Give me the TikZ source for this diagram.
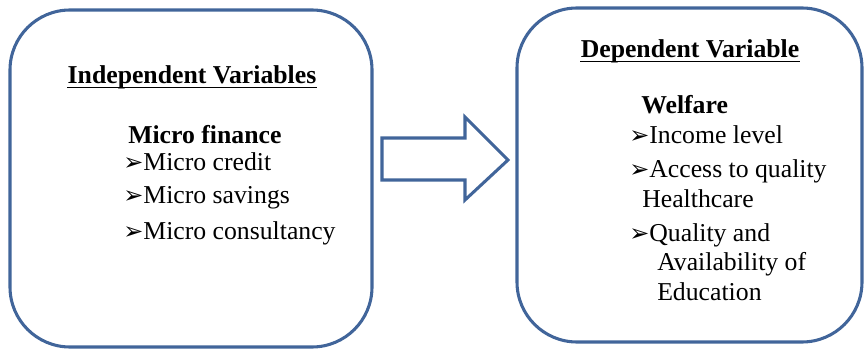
\documentclass[tikz,border=0pt]{standalone}
\usepackage{fontspec}
\setmainfont{Liberation Serif}
\newfontfamily\dingfont{DejaVu Sans}
\usepackage{tikz}
\usetikzlibrary{arrows.meta}

\definecolor{boxblue}{HTML}{41659A}
\newcommand{\bul}{{\dingfont\fontsize{18}{18}\selectfont ➢}}

\tikzset{
    varbox/.style={draw=boxblue, line width=2.3pt, rounded corners=45pt, inner sep=0pt},
    txt/.style={inner sep=0pt, anchor=base west, font=\fontsize{19.3}{24}\selectfont},
    head/.style={inner sep=0pt, anchor=base, font=\fontsize{19.3}{24}\selectfont\bfseries},
    uline/.style={line width=1.3pt}
}

\begin{document}
\begin{tikzpicture}[x=0.75pt, y=-0.75pt]

    \useasboundingbox (0,0) rectangle (864,349);

    % the two boxes
    \node[varbox, minimum width=271.5pt, minimum height=252.75pt] (indep) at (191,178.5) {};
    \node[varbox, minimum width=258.75pt, minimum height=250.5pt] (dep) at (689.5,175) {};

    % block arrow between them
    \draw[boxblue, line width=2.3pt, line join=miter]
        (382,138) -- (465,138) -- (465,117) -- (508,160) -- (465,200) -- (465,180) -- (382,180) -- cycle;

    % independent side
    \node[head] (indtitle) at (192,84) {Independent Variables};
    \draw[uline] ([yshift=-2.6pt]indtitle.base west) -- ([yshift=-2.6pt]indtitle.base east);
    \node[head, anchor=base west] (mfin) at (128,144) {Micro finance};
    \node[txt] (credit) at (123,171) {\bul Micro credit};
    \node[txt] (savings) at (123,204) {\bul Micro savings};
    \node[txt] (consult) at (123,239) {\bul Micro consultancy};

    % dependent side
    \node[head] (deptitle) at (690,58) {Dependent Variable};
    \draw[uline] ([yshift=-2.6pt]deptitle.base west) -- ([yshift=-2.6pt]deptitle.base east);
    \node[head, anchor=base west] (welf) at (641,114) {Welfare};
    \node[txt] (income) at (629,144) {\bul Income level};
    \node[txt] (access) at (629,178) {\bul Access to quality};
    \node[txt] (health) at (642,208) {Healthcare};
    \node[txt] (quality) at (629,241) {\bul Quality and};
    \node[txt] (avail) at (657,270) {Availability of};
    \node[txt] (educ) at (657,300) {Education};

\end{tikzpicture}
\end{document}
